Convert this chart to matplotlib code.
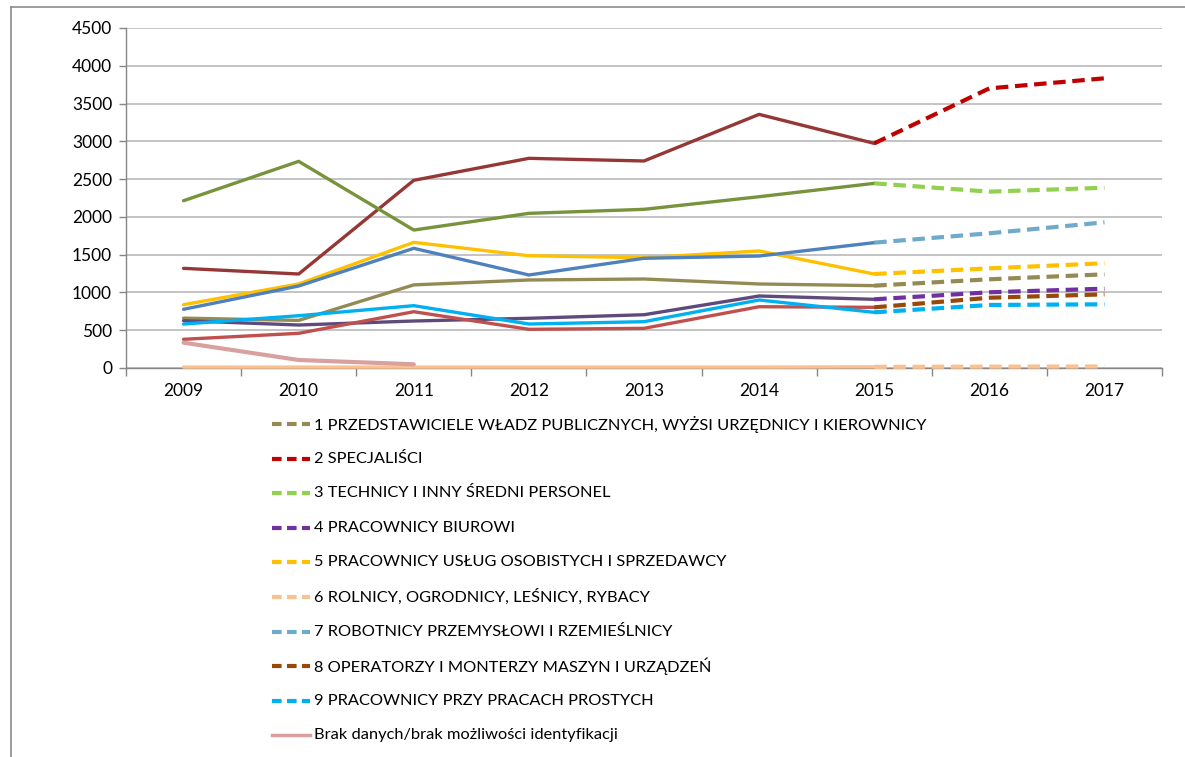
import matplotlib
matplotlib.use("Agg")
import matplotlib.pyplot as plt
from matplotlib.lines import Line2D
import numpy as np

plt.rcParams['font.family'] = ['Lato', 'DejaVu Sans']

years = ['2009', '2010', '2011', '2012', '2013', '2014', '2015', '2016', '2017']

labels = [
    '1 PRZEDSTAWICIELE WŁADZ PUBLICZNYCH, WYŻSI URZĘDNICY I KIEROWNICY',
    '2 SPECJALIŚCI',
    '3 TECHNICY I INNY ŚREDNI PERSONEL',
    '4 PRACOWNICY BIUROWI',
    '5 PRACOWNICY USŁUG OSOBISTYCH I SPRZEDAWCY',
    '6 ROLNICY, OGRODNICY, LEŚNICY, RYBACY',
    '7 ROBOTNICY PRZEMYSŁOWI I RZEMIEŚLNICY',
    '8 OPERATORZY I MONTERZY MASZYN I URZĄDZEŃ',
    '9 PRACOWNICY PRZY PRACACH PROSTYCH',
    'Brak danych/brak możliwości identyfikacji',
]

# 2009..2017 values
przedstawiciele = [660, 630, 1100, 1165, 1178, 1112, 1090, 1174, 1240]
specjalisci     = [1319, 1244, 2484, 2775, 2740, 3357, 2973, 3701, 3834]
technicy        = [2214, 2735, 1826, 2047, 2100, 2267, 2444, 2334, 2386]
biurowi         = [626, 569, 622, 658, 705, 953, 909, 1002, 1050]
uslugi          = [838, 1112, 1663, 1486, 1460, 1549, 1244, 1319, 1386]
rolnicy         = [12, 12, 12, 12, 12, 12, 15, 18, 20]
robotnicy       = [777, 1085, 1584, 1231, 1452, 1482, 1659, 1783, 1928]
operatorzy      = [380, 459, 745, 512, 525, 811, 803, 930, 975]
proste          = [582, 692, 825, 582, 613, 900, 737, 834, 843]
brak            = [335, 106, 49]

series = [przedstawiciele, specjalisci, technicy, biurowi, uslugi,
          rolnicy, robotnicy, operatorzy, proste]
solid_colors = ['#948A54', '#953735', '#77933C', '#604A7B', '#FFC000',
                '#FAC090', '#4F81BD', '#C0504D', '#00B0F0']
dash_colors = ['#948A54', '#C00000', '#92D050', '#7030A0', '#FFC000',
               '#FAC090', '#6FAACB', '#984807', '#00B0F0']
brak_color = '#D9A0A0'

W, H = 1185, 757
fig = plt.figure(figsize=(W / 100, H / 100), dpi=100)
ax = fig.add_axes([126 / W, 1 - 368 / H, (1162 - 126) / W, (368 - 28) / H])

x = np.arange(len(years))
split = 6  # 2015 index

lw_solid = 2.4
lw_dash = 3.0
dash = (0, (3.0, 1.6))

for vals, sc in zip(series, solid_colors):
    ax.plot(x[:split + 1], vals[:split + 1], color=sc, lw=lw_solid,
            solid_capstyle='round', solid_joinstyle='round', zorder=3,
            clip_on=False)
ax.plot(x[:len(brak)], brak, color=brak_color, lw=3.0,
        solid_capstyle='round', zorder=3)
for vals, dc in zip(series, dash_colors):
    ax.plot(x[split:], vals[split:], color=dc, lw=lw_dash, linestyle=dash,
            dash_capstyle='butt', zorder=4, clip_on=False)

ax.set_xlim(-0.5, len(years) - 0.5)
ax.set_ylim(0, 4500)
ax.set_yticks(np.arange(0, 4501, 500))
ax.set_yticklabels([str(v) for v in range(0, 4501, 500)])
ax.set_xticks(x)
ax.set_xticklabels(years)
ax.set_xticks(np.arange(-0.5, len(years), 1.0), minor=True)
ax.tick_params(axis='x', which='major', length=0, pad=11, labelsize=12.5)
ax.tick_params(axis='x', which='minor', length=6, color='#868686', width=1)
ax.tick_params(axis='y', length=5, color='#868686', width=1, labelsize=12.5, pad=5)
for lbl in ax.get_xticklabels() + ax.get_yticklabels():
    lbl.set_color('#000000')

ax.grid(axis='y', color='#B3B3B3', lw=1.1, zorder=0)
ax.set_axisbelow(True)
for s in ['top', 'right']:
    ax.spines[s].set_visible(False)
ax.spines['left'].set_color('#868686')
ax.spines['bottom'].set_color('#868686')
ax.spines['left'].set_linewidth(1)
ax.spines['bottom'].set_linewidth(1)
ax.spines['bottom'].set_zorder(1)

# frame lines of the chart area (top and left)
fig.add_artist(Line2D([11 / W, 1.0], [1 - 7 / H, 1 - 7 / H], color='#8C8C8C', lw=1.2,
                      transform=fig.transFigure))
fig.add_artist(Line2D([11 / W, 11 / W], [1 - 7 / H, 0], color='#8C8C8C', lw=1.2,
                      transform=fig.transFigure))

# legend drawn below the plot
y0 = 424
step = 34.6
for i, lab in enumerate(labels):
    yy = 1 - (y0 + i * step) / H
    if i < len(dash_colors):
        fig.add_artist(Line2D([272 / W, 310 / W], [yy, yy], color=dash_colors[i],
                              lw=lw_dash, linestyle=(0, (2.3, 1.3)),
                              dash_capstyle='butt', transform=fig.transFigure))
    else:
        fig.add_artist(Line2D([272 / W, 310 / W], [yy, yy], color=brak_color,
                              lw=2.5, transform=fig.transFigure))
    fig.text(314 / W, yy, lab, fontsize=11.8, va='center', ha='left', color='#000000')

fig.savefig('out.png', dpi=100)
